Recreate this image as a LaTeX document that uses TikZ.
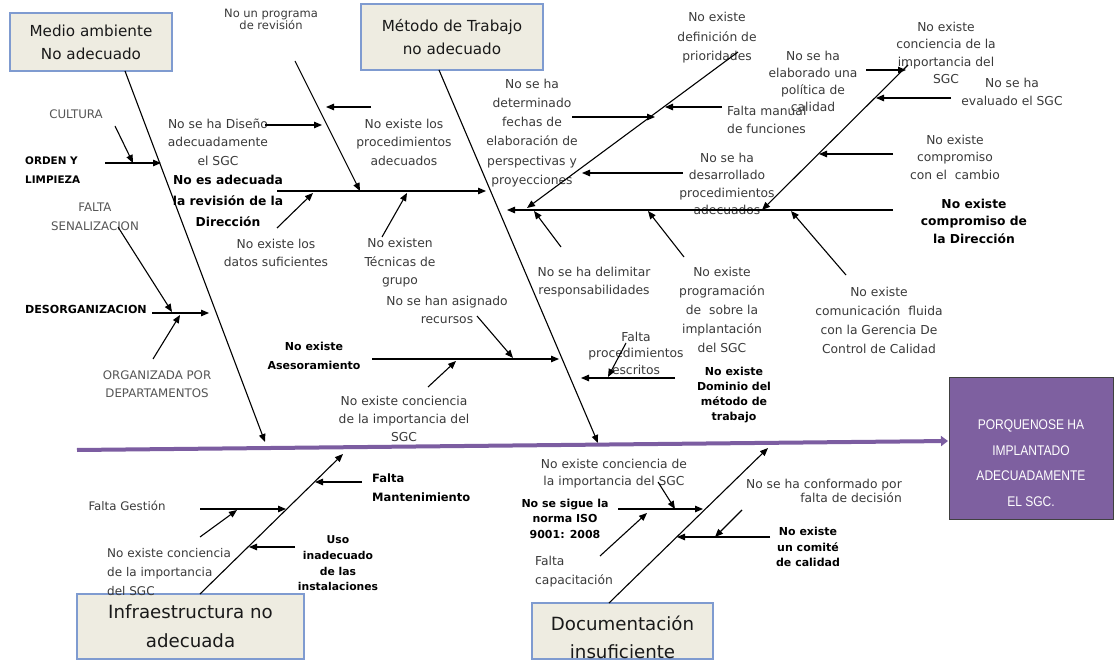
\documentclass[tikz,border=0pt]{standalone}
\usepackage{fontspec}
\setmainfont{DejaVu Sans}
\newfontfamily\headfont[FakeStretch=0.86]{Liberation Sans}
\usetikzlibrary{arrows.meta}
\definecolor{boxfill}{HTML}{EEECE1}
\definecolor{boxline}{HTML}{7F9BD0}
\definecolor{headfill}{HTML}{7E60A0}
\definecolor{spinecol}{HTML}{7C5DA1}
\definecolor{txtgray}{HTML}{3A3A3A}
\definecolor{capgray}{HTML}{555555}

\begin{document}
\begin{tikzpicture}[x=1pt,y=-1pt,
  bone/.style={line width=1.1pt, -{Triangle[length=8pt,width=6.5pt]}},
  spine/.style={draw=spinecol, line width=4pt, -{Triangle[length=7pt,width=10pt]}},
  catbox/.style={draw=boxline, line width=1.3pt, fill=boxfill, inner sep=0pt},
  cattext/.style={text=black!90, align=center, inner sep=0pt},
  lbl/.style={font=\fontsize{12.3}{18.5}\selectfont, text=txtgray, align=center, inner sep=0pt},
  caps/.style={font=\fontsize{11.8}{18.5}\selectfont, text=capgray, align=center, inner sep=0pt},
  blbl/.style={font=\bfseries\fontsize{11}{15.5}\selectfont, text=black, align=center, inner sep=0pt}
]
\useasboundingbox (0,0) rectangle (1114,663);
\fill[white] (0,0) rectangle (1114,663);

% ---------- category boxes and effect ----------
\node[catbox, minimum width=162pt, minimum height=58pt,
      font=\fontsize{15.2}{23}\selectfont, align=center, text=black!90] (medio) at (91,42)
      {Medio ambiente\\No adecuado};
\node[catbox, minimum width=182pt, minimum height=66pt,
      font=\fontsize{15.2}{23}\selectfont, align=center, text=black!90] (metodo) at (452,37)
      {Método de Trabajo\\no adecuado};
\node[catbox, minimum width=227pt, minimum height=65pt,
      font=\fontsize{18.2}{29}\selectfont, align=center, text=black!90] (infra) at (190.5,626.5)
      {Infraestructura no\\adecuada};
\node[catbox, minimum width=181pt, minimum height=56pt] (doc) at (622.5,631) {};
\node[cattext, font=\fontsize{18.2}{28}\selectfont] (doctxt) at (622.5,637)
      {Documentación\\insuficiente};
\node[draw=black!75, line width=1pt, fill=headfill, minimum width=164pt, minimum height=142pt] (head) at (1031,448) {};
\node[text=white, align=center, inner sep=0pt, font=\headfont\fontsize{14}{25.5}\selectfont] (headtxt) at (1031,463)
      {PORQUENOSE HA\\IMPLANTADO\\ADECUADAMENTE\\EL SGC.};

% ---------- spine ----------
\coordinate (spL) at (77,450);
\coordinate (spR) at (948,441);
\draw[spine] (spL) -- (spR);

% ---------- main bones ----------
\coordinate (mA0) at (125,71);  \coordinate (mA1) at (265,442);
\coordinate (mB0) at (439,70);  \coordinate (mB1) at (598,443);
\coordinate (mC0) at (200,594); \coordinate (mC1) at (343,454);
\coordinate (mD0) at (609,603); \coordinate (mD1) at (768,448);
\draw[bone] (mA0) -- (mA1);
\draw[bone] (mB0) -- (mB1);
\draw[bone] (mC0) -- (mC1);
\draw[bone] (mD0) -- (mD1);

% ---------- Medio ambiente causes ----------
\node[caps] (cultura) at (76,114) {CULTURA};
\node[blbl, font=\bfseries\fontsize{10.4}{19}\selectfont, anchor=west, align=left] (orden) at (25,170) {ORDEN Y\\LIMPIEZA};
\node[caps] (senal) at (95,217) {FALTA\\SENALIZACION};
\node[blbl, font=\bfseries\fontsize{11.1}{15}\selectfont, anchor=west] (desorg) at (25,309) {DESORGANIZACION};
\node[caps] (orgdep) at (157,384) {ORGANIZADA POR\\DEPARTAMENTOS};

\coordinate (cu0) at (115,126); \coordinate (cu1) at (133,163);
\coordinate (or0) at (105,163); \coordinate (or1) at (161,163);
\coordinate (se0) at (118,227); \coordinate (se1) at (172,312);
\coordinate (de0) at (152,313); \coordinate (de1) at (209,313);
\coordinate (og0) at (153,359); \coordinate (og1) at (180,315);
\draw[bone] (cu0) -- (cu1);
\draw[bone] (or0) -- (or1);
\draw[bone] (se0) -- (se1);
\draw[bone] (de0) -- (de1);
\draw[bone] (og0) -- (og1);

% ---------- revision de la Direccion ----------
\node[blbl, font=\bfseries\fontsize{12.3}{21}\selectfont] (revision) at (228,201) {No es adecuada\\la revisión de la\\Dirección};
\node[lbl, font=\fontsize{11.5}{12}\selectfont] (programa) at (271,19) {No un programa\\de revisión};
\node[lbl] (diseno) at (218,142) {No se ha Diseño\\adecuadamente\\el SGC};
\node[lbl] (procadec) at (404,142) {No existe los\\procedimientos\\adecuados};
\node[lbl] (datos) at (276,253) {No existe los\\datos suficientes};
\node[lbl] (tecnicas) at (400,263) {No existen\\Técnicas de\\grupo};

\coordinate (rv0) at (277,191); \coordinate (rv1) at (486,191);
\coordinate (pr0) at (295,61);  \coordinate (pr1) at (360,191);
\coordinate (pa0) at (371,107); \coordinate (pa1) at (326,107);
\coordinate (ds0) at (265,125); \coordinate (ds1) at (322,125);
\coordinate (da0) at (277,228); \coordinate (da1) at (313,193);
\coordinate (te0) at (382,237); \coordinate (te1) at (407,193);
\draw[bone] (rv0) -- (rv1);
\draw[bone] (pr0) -- (pr1);
\draw[bone] (pa0) -- (pa1);
\draw[bone] (ds0) -- (ds1);
\draw[bone] (da0) -- (da1);
\draw[bone] (te0) -- (te1);

% ---------- Asesoramiento ----------
\node[blbl, font=\bfseries\fontsize{11}{19}\selectfont] (aseso) at (314,356) {No existe\\Asesoramiento};
\node[lbl] (recursos) at (447,310) {No se han asignado\\recursos};
\node[lbl, font=\fontsize{12.3}{18}\selectfont] (concA) at (404,419) {No existe conciencia\\de la importancia del\\SGC};

\coordinate (as0) at (372,359); \coordinate (as1) at (559,359);
\coordinate (re0) at (477,316); \coordinate (re1) at (513,358);
\coordinate (ca0) at (428,387); \coordinate (ca1) at (456,361);
\draw[bone] (as0) -- (as1);
\draw[bone] (re0) -- (re1);
\draw[bone] (ca0) -- (ca1);

% ---------- compromiso de la Direccion ----------
\node[blbl, font=\bfseries\fontsize{12.3}{17.5}\selectfont] (compromiso) at (974,221) {No existe\\compromiso de\\la Dirección};
\node[lbl, font=\fontsize{12.3}{19.5}\selectfont] (prioridades) at (717,38) {No existe\\definición de\\prioridades};
\node[lbl, font=\fontsize{12.3}{19.2}\selectfont] (fechas) at (532,133) {No se ha\\determinado\\fechas de\\elaboración de\\perspectivas y\\proyecciones};
\node[lbl, anchor=west, align=left] (manual) at (727,120) {Falta manual\\de funciones};
\node[lbl, font=\fontsize{12.3}{17.3}\selectfont] (desarrollado) at (727,184) {No se ha\\desarrollado\\procedimientos\\adecuados};
\node[lbl, font=\fontsize{12.3}{17}\selectfont] (politica) at (813,81) {No se ha\\elaborado una\\política de\\calidad};
\node[lbl, font=\fontsize{12.3}{17.5}\selectfont] (concB) at (946,53) {No existe\\conciencia de la\\importancia del\\SGC};
\node[lbl] (evaluado) at (1012,92) {No se ha\\evaluado el SGC};
\node[lbl, font=\fontsize{12.3}{17.5}\selectfont] (cambio) at (955,157) {No existe\\compromiso\\con el\ \ cambio};
\node[lbl] (delimitar) at (594,282) {No se ha delimitar\\responsabilidades};
\node[lbl, font=\fontsize{12.3}{19}\selectfont] (programacion) at (722,310) {No existe\\programación\\de\ \ sobre la\\implantación\\del SGC};
\node[lbl, font=\fontsize{12.3}{19}\selectfont] (comunicacion) at (879,320) {No existe\\comunicación\ \ fluida\\con la Gerencia De\\Control de Calidad};

\coordinate (cp0) at (893,210); \coordinate (cp1) at (507,210);
\coordinate (cb0) at (908,65);  \coordinate (cb1) at (762,210);
\coordinate (po0) at (866,70);  \coordinate (po1) at (906,70);
\coordinate (ev0) at (951,98);  \coordinate (ev1) at (876,98);
\coordinate (cm0) at (893,154); \coordinate (cm1) at (819,154);
\coordinate (pd0) at (738,52);  \coordinate (pd1) at (527,208);
\coordinate (fe0) at (572,117); \coordinate (fe1) at (655,117);
\coordinate (ma0) at (722,107); \coordinate (ma1) at (665,107);
\coordinate (dv0) at (683,173); \coordinate (dv1) at (582,173);
\coordinate (dl0) at (561,247); \coordinate (dl1) at (534,211);
\coordinate (pg0) at (684,257); \coordinate (pg1) at (648,211);
\coordinate (cn0) at (846,275); \coordinate (cn1) at (791,211);
\draw[bone] (cp0) -- (cp1);
\draw[bone] (cb0) -- (cb1);
\draw[bone] (po0) -- (po1);
\draw[bone] (ev0) -- (ev1);
\draw[bone] (cm0) -- (cm1);
\draw[bone] (pd0) -- (pd1);
\draw[bone] (fe0) -- (fe1);
\draw[bone] (ma0) -- (ma1);
\draw[bone] (dv0) -- (dv1);
\draw[bone] (dl0) -- (dl1);
\draw[bone] (pg0) -- (pg1);
\draw[bone] (cn0) -- (cn1);

% ---------- Dominio del metodo ----------
\node[lbl, font=\fontsize{12.3}{16.5}\selectfont] (escritos) at (636,353) {Falta\\procedimientos\\escritos};
\node[blbl, font=\bfseries\fontsize{11}{15}\selectfont] (dominio) at (734,395) {No existe\\Dominio del\\método de\\trabajo};
\coordinate (do0) at (675,378); \coordinate (do1) at (581,378);
\coordinate (es0) at (626,343); \coordinate (es1) at (608,377);
\draw[bone] (do0) -- (do1);
\draw[bone] (es0) -- (es1);

% ---------- Infraestructura causes ----------
\node[blbl, font=\bfseries\fontsize{11.5}{19}\selectfont, anchor=west, align=left] (mantenimiento) at (372,488) {Falta\\Mantenimiento};
\node[lbl, font=\fontsize{11.8}{18}\selectfont] (gestion) at (127,506) {Falta Gestión};
\node[lbl, font=\fontsize{12}{19}\selectfont, anchor=west, align=left] (concC) at (107,572) {No existe conciencia\\de la importancia\\del SGC};
\node[blbl, font=\bfseries\fontsize{10.8}{15.7}\selectfont] (uso) at (338,563.5) {Uso\\inadecuado\\de las\\instalaciones};

\coordinate (mt0) at (362,482); \coordinate (mt1) at (315,482);
\coordinate (ge0) at (200,509); \coordinate (ge1) at (286,509);
\coordinate (cc0) at (200,537); \coordinate (cc1) at (237,510);
\coordinate (us0) at (295,547); \coordinate (us1) at (249,547);
\draw[bone] (mt0) -- (mt1);
\draw[bone] (ge0) -- (ge1);
\draw[bone] (cc0) -- (cc1);
\draw[bone] (us0) -- (us1);

% ---------- Documentacion causes ----------
\node[lbl, font=\fontsize{12.3}{17}\selectfont] (concD) at (614,473.5) {No existe conciencia de\\la importancia del SGC};
\node[blbl, font=\bfseries\fontsize{11}{15.5}\selectfont] (norma) at (565,518.7) {No se sigue la\\norma ISO\\9001: 2008};
\node[lbl, anchor=west, align=left] (capacitacion) at (535,571.5) {Falta\\capacitación};
\node[lbl, font=\fontsize{12.3}{13.5}\selectfont, align=right, anchor=east] (decision) at (902,491) {No se ha conformado por\\falta de decisión};
\node[blbl, font=\bfseries\fontsize{11}{15.5}\selectfont] (comite) at (808,547) {No existe\\un comité\\de calidad};

\coordinate (no0) at (618,509); \coordinate (no1) at (703,509);
\coordinate (cd0) at (658,482); \coordinate (cd1) at (675,509);
\coordinate (cap0) at (600,556); \coordinate (cap1) at (647,513);
\coordinate (dc0) at (742,510); \coordinate (dc1) at (715,537);
\coordinate (co0) at (770,537); \coordinate (co1) at (677,537);
\draw[bone] (no0) -- (no1);
\draw[bone] (cd0) -- (cd1);
\draw[bone] (cap0) -- (cap1);
\draw[bone] (dc0) -- (dc1);
\draw[bone] (co0) -- (co1);

\end{tikzpicture}
\end{document}
